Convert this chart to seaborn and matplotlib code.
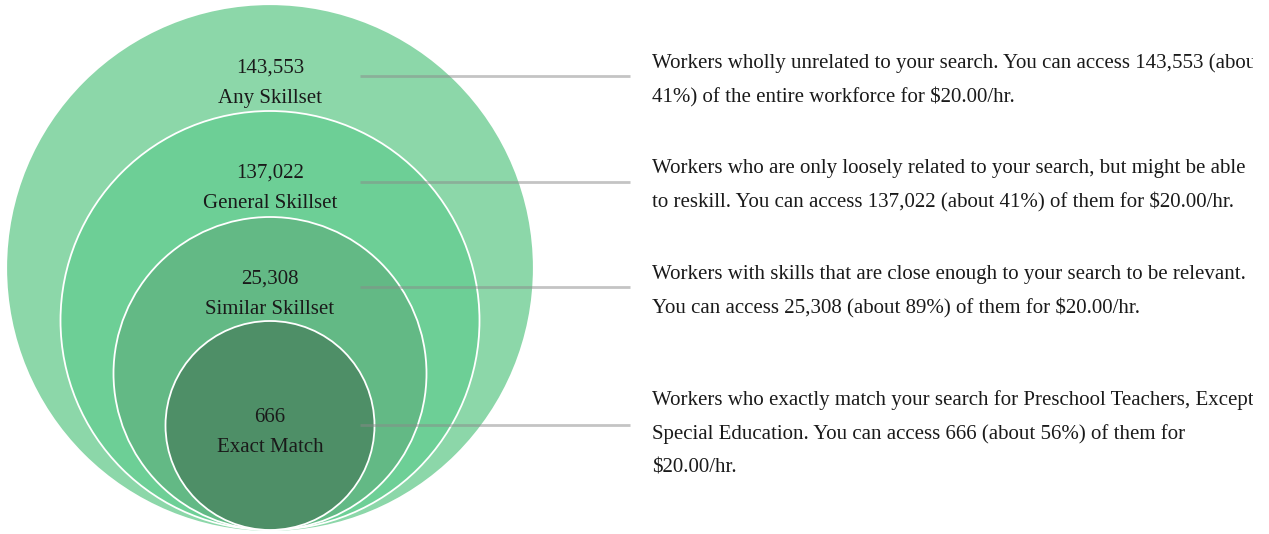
import matplotlib
matplotlib.use("Agg")
import matplotlib.pyplot as plt
from matplotlib.patches import Circle
import seaborn as sns

# ---- data ----
categories = ["Any Skillset", "General Skillset", "Similar Skillset", "Exact Match"]
counts = [143553, 137022, 25308, 666]
count_labels = ["143,553", "137,022", "25,308", "666"]
descriptions = [
    ["Workers wholly unrelated to your search. You can access 143,553 (about",
     "41%) of the entire workforce for $20.00/hr."],
    ["Workers who are only loosely related to your search, but might be able",
     "to reskill. You can access 137,022 (about 41%) of them for $20.00/hr."],
    ["Workers with skills that are close enough to your search to be relevant.",
     "You can access 25,308 (about 89%) of them for $20.00/hr."],
    ["Workers who exactly match your search for Preschool Teachers, Except",
     "Special Education. You can access 666 (about 56%) of them for",
     "$20.00/hr."],
]
colors = ["#8cd7a9", "#6dcf96", "#63b985", "#4e8f67"]

# ---- layout (pixel space) ----
W, H = 1269, 534
cx, base_y = 270, 530
radii = [262, 209.5, 156.5, 104.5]
label_y = [68, 173, 279, 417]
line_y = [76, 182, 287, 425]
desc_y = [63, 168, 274, 400]
line_x0, line_x1 = 360, 630
text_x = 652
line_h = 34
fs = 15

sns.set_theme(style="white")
plt.rcParams['font.family'] = ['Liberation Serif', 'DejaVu Serif']

fig = plt.figure(figsize=(W / 100, H / 100), dpi=100)
fig.patch.set_facecolor("white")
ax = fig.add_axes([0, 0, 1, 1])
ax.set_xlim(0, W)
ax.set_ylim(H, 0)
ax.axis("off")

for i, (r, c) in enumerate(zip(radii, colors)):
    ax.add_patch(Circle((cx, base_y - r), r, facecolor=c,
                        edgecolor="white" if i > 0 else c,
                        linewidth=1.3, zorder=1))

for cnt, cat, y in zip(count_labels, categories, label_y):
    ax.text(cx, y, cnt, ha="center", va="center", fontsize=fs, color="#1a1a1a", zorder=3)
    ax.text(cx, y + 30, cat, ha="center", va="center", fontsize=fs, color="#1a1a1a", zorder=3)

for y in line_y:
    ax.plot([line_x0, line_x1], [y, y], color="#8a8a8a", alpha=0.5, linewidth=2,
            solid_capstyle="butt", zorder=2)

# description panel, clipped at its right edge
x_left, x_right = 640, 1253
ax2 = fig.add_axes([x_left / W, 0, (x_right - x_left) / W, 1])
ax2.set_xlim(x_left, x_right)
ax2.set_ylim(H, 0)
ax2.axis("off")
ax2.patch.set_alpha(0)
for lines, y0 in zip(descriptions, desc_y):
    for i, ln in enumerate(lines):
        ax2.text(text_x, y0 + i * line_h, ln, ha="left", va="center", fontsize=fs,
                 color="#1a1a1a", clip_on=True)

fig.savefig("out.png", dpi=100, facecolor="white")
